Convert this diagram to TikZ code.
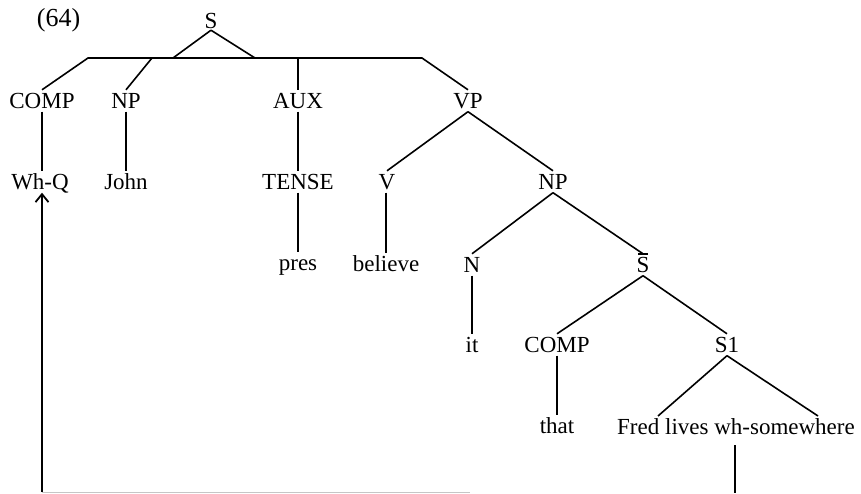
\documentclass[tikz,border=0pt]{standalone}
\usepackage{fontspec}
\setmainfont{Liberation Serif}
\usetikzlibrary{arrows.meta}
% S with a short bar over it
\newcommand{\barS}{\makebox[0pt][l]{\hspace{0.08em}\rule[0.76em]{0.4em}{0.07em}}S}
\begin{document}
\begin{tikzpicture}[x=1pt,y=-1pt,
  lab/.style={anchor=base,inner sep=2.5pt,text height=15.5pt,text depth=1pt,
    font=\fontsize{23}{27}\selectfont},
  branch/.style={line width=1.6pt},
  move/.style={line width=2pt},
  trace/.style={line width=0.9pt,draw=gray!45}]
\useasboundingbox (0,0) rectangle (861,493);

% example number and root
\node[lab,font=\fontsize{26}{30}\selectfont] (num) at (58.5,26) {(64)};
\node[lab,inner sep=1pt] (s) at (211,28) {S};

% attachment points on the flat bar under the root
\coordinate (triL) at (173,58);
\coordinate (triR) at (255,58);
\coordinate (barL) at (88,58);
\coordinate (barR) at (422,58);
\coordinate (barNP) at (152,58);
\coordinate (barAUX) at (298,58);

% first row
\node[lab] (comp1) at (42,108) {COMP};
\node[lab] (np1) at (126,108) {NP};
\node[lab] (aux) at (298,108) {AUX};
\node[lab] (vp) at (468,108) {VP};

% second row
\node[lab] (whq) at (40,189) {Wh-Q};
\node[lab] (john) at (126,189) {John};
\node[lab] (tense) at (298,189) {TENSE};
\node[lab] (v) at (387,189) {V};
\node[lab] (np2) at (553,189) {NP};

% third row
\node[lab] (pres) at (298,270) {pres};
\node[lab] (believe) at (386,271) {believe};
\node[lab] (n) at (472,272) {N};
\node[lab] (sbar) at (643,272) {\barS};

% fourth row
\node[lab] (it) at (472,352) {it};
\node[lab] (comp2) at (557,352) {COMP};
\node[lab] (s1) at (727,352) {S1};

% fifth row
\node[lab] (that) at (557,433) {that};
\node[lab] (fred) at (736,434) {Fred lives wh-somewhere};

% ends of the branches under S1
\coordinate (fredL) at (658,416);
\coordinate (fredR) at (818,416);

% movement path ends
\coordinate (traceTop) at (735,445);
\coordinate (moveR) at (735,493);
\coordinate (moveL) at (42,492);
\coordinate (traceEnd) at (470,492);

% branches
\draw[branch] (s.south) -- (triL);
\draw[branch] (s.south) -- (triR);
\draw[branch] (comp1.north) -- (barL) -- (barR) -- (vp.north);
\draw[branch] (np1.north) -- (barNP);
\draw[branch] (aux.north) -- (barAUX);

\draw[branch] (comp1.south) -- (comp1.south |- whq.north);
\draw[branch] (np1.south) -- (john.north);
\draw[branch] (aux.south) -- (tense.north);
\draw[branch] (vp.south) -- (v.north);
\draw[branch] (vp.south) -- (np2.north);

\draw[branch] (tense.south) -- (pres.north);
\draw[branch] (believe.north |- v.south) -- (believe.north);
\draw[branch] (np2.south) -- (n.north);
\draw[branch] (np2.south) -- (sbar.north);

\draw[branch] (n.south) -- (it.north);
\draw[branch] (sbar.south) -- (comp2.north);
\draw[branch] (sbar.south) -- (s1.north);

\draw[branch] (comp2.south) -- (that.north);
\draw[branch] (s1.south) -- (fredL);
\draw[branch] (s1.south) -- (fredR);

% movement of the wh-phrase
\draw[move] (traceTop) -- (moveR);
\draw[trace] (moveL) -- (traceEnd);
\draw[move,-{Straight Barb[length=8pt,width=13pt,line width=1.8pt]}] (moveL) -- (moveL |- whq.south);
\end{tikzpicture}
\end{document}
